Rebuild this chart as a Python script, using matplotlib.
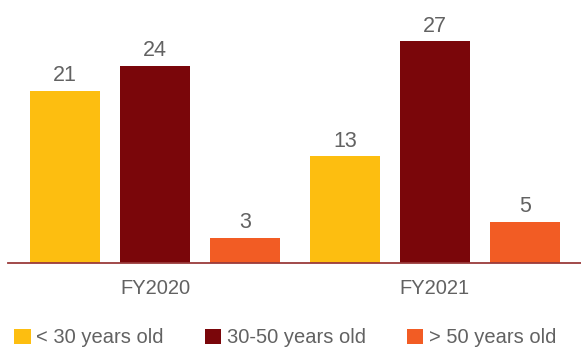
import numpy as np
import matplotlib.pyplot as plt
from matplotlib.patches import Patch

years = ['FY2020', 'FY2021']
age_groups = ['< 30 years old', '30-50 years old', '> 50 years old']
under_30 = [21, 13]
from_30_to_50 = [24, 27]
over_50 = [3, 5]

colors = ['#FDBE10', '#7A060A', '#F25C24']
text_color = '#626262'
plt.rcParams['font.family'] = ['Liberation Sans', 'DejaVu Sans']

fig = plt.figure(figsize=(5.81, 3.49), dpi=100)
ax = fig.add_axes([8 / 581, 86.5 / 349, 573 / 581, 262.5 / 349])

x = np.arange(len(years))
width = 0.25
offset = 90 / 280
series = [under_30, from_30_to_50, over_50]
for i, (vals, col) in enumerate(zip(series, colors)):
    bars = ax.bar(x + (i - 1) * offset, vals, width, color=col, label=age_groups[i])
    for b, v in zip(bars, vals):
        ax.text(b.get_x() + b.get_width() / 2, v + 0.55, str(v),
                ha='center', va='bottom', fontsize=15.5, color=text_color)

ax.set_xlim(-0.525, 1.522)
ax.set_ylim(0, 32.05)
ax.set_xticks(x)
ax.set_xticklabels(years, fontsize=14.5, color=text_color)
ax.tick_params(axis='x', length=0, pad=12)
ax.set_yticks([])
for s in ['top', 'right', 'left']:
    ax.spines[s].set_visible(False)
ax.spines['bottom'].set_color('#9A3A3A')
ax.spines['bottom'].set_linewidth(1.3)

handles = [Patch(facecolor=c, edgecolor='none') for c in colors]
fig.legend(handles, age_groups, loc='lower left', bbox_to_anchor=(0.004, -0.03),
           ncol=3, frameon=False, fontsize=14.5, labelcolor=text_color,
           handlelength=0.8, handleheight=0.8, handletextpad=0.28,
           columnspacing=2.05, borderaxespad=0.2)

fig.savefig('out.png', dpi=100)
